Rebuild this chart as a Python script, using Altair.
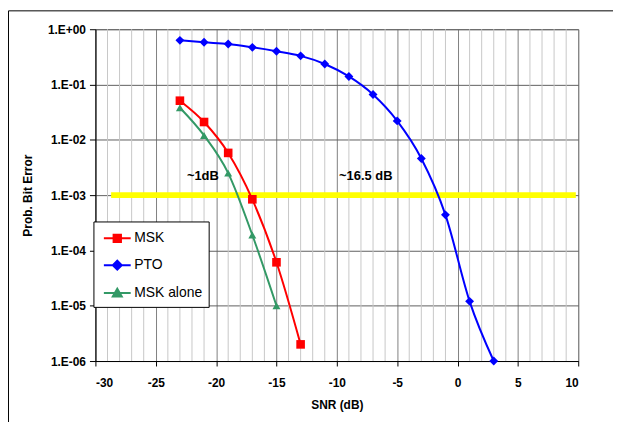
import altair as alt
import pandas as pd

# ---- data ----
snr_pto = [-23, -21, -19, -17, -15, -13, -11, -9, -7, -5, -3, -1, 1, 3]
ber_pto = [0.63, 0.58, 0.54, 0.47, 0.40, 0.33, 0.235, 0.14, 0.066, 0.022, 0.0046, 0.00044, 0.000012, 0.000001]
snr_msk = [-23, -21, -19, -17, -15, -13]
ber_msk = [0.051, 0.021, 0.0058, 0.00084, 0.000061, 0.000002]
snr_alone = [-23, -21, -19, -17, -15]
ber_alone = [0.038, 0.012, 0.0025, 0.00019, 0.00001]

series_names = ["MSK", "PTO", "MSK alone"]
series_colors = ["#FF0000", "#0000FF", "#339966"]
series_shapes = ["square", "diamond", "triangle-up"]
series_sizes = [75, 80, 64]

threshold_ber = [0.001]
threshold_from = [-28.7]
threshold_to = [9.8]

note_text = ["~1dB", "~16.5 dB"]
note_snr = [-21.1, -7.6]
note_ber = [0.0022, 0.0022]

y_ticks = [1e-6, 1e-5, 1e-4, 1e-3, 1e-2, 1e-1, 1]
x_major = list(range(-30, 11, 5))
x_minor = [v for v in range(-30, 11) if v % 5 != 0]

# ---- tables ----
rows = []
for name, xs, ys in [("MSK", snr_msk, ber_msk), ("PTO", snr_pto, ber_pto), ("MSK alone", snr_alone, ber_alone)]:
    rows += [{"series": name, "snr": x, "ber": y} for x, y in zip(xs, ys)]
df = pd.DataFrame(rows)
thr = pd.DataFrame({"snr": threshold_from, "snr2": threshold_to, "ber": threshold_ber})
notes = pd.DataFrame({"t": note_text, "snr": note_snr, "ber": note_ber})
minor = pd.DataFrame({"snr": x_minor})

FONT = "Liberation Sans"
xscale = alt.Scale(domain=[-30, 10], nice=False, zero=False)
yscale = alt.Scale(type="log", domain=[1e-6, 1], nice=False)

x_axis = alt.Axis(
    values=x_major, title="SNR (dB)", labelOverlap=False,
    labelExpr="'' + datum.value",
    gridColor="#808080", tickSize=5, labelPadding=12, titlePadding=11,
)
y_axis = alt.Axis(
    values=y_ticks, title="Prob. Bit Error", labelOverlap=False,
    labelExpr="'1.E' + (datum.value >= 1 ? '+00' : '-0' + round(-log(datum.value)/LN10))",
    gridColor="#606060", tickSize=6, labelPadding=4, titlePadding=13,
)


def X():
    return alt.X("snr:Q", scale=xscale, axis=x_axis)


def Y():
    return alt.Y("ber:Q", scale=yscale, axis=y_axis)


minor_grid = alt.Chart(minor).mark_rule(color="#c8c8c8", strokeWidth=1).encode(x=X())

frame = alt.Chart(pd.DataFrame({"a": [0]})).mark_rect(
    fillOpacity=0, stroke="black", strokeWidth=1
).encode(x=alt.value(-87.5), x2=alt.value(900), y=alt.value(-18.5), y2=alt.value(900))

threshold = alt.Chart(thr).mark_rule(color="#FFFF00", strokeWidth=6).encode(
    x=X(), x2="snr2:Q", y=Y(),
)

series_layers = []
for name, color, shape, size in zip(series_names, series_colors, series_shapes, series_sizes):
    sub = alt.Chart(df).transform_filter(alt.datum.series == name)
    series_layers.append(
        sub.mark_line(strokeWidth=2, interpolate="monotone", color=color).encode(x=X(), y=Y())
    )
    series_layers.append(
        sub.mark_point(filled=True, shape=shape, size=size, opacity=1, color=color).encode(x=X(), y=Y())
    )

text = alt.Chart(notes).mark_text(font=FONT, fontSize=13, fontWeight="bold", color="black").encode(
    x=X(), y=Y(), text="t:N"
)

legend_paths = [
    "M-1.35,0L1.35,0M-0.37,-0.37L0.37,-0.37L0.37,0.37L-0.37,0.37Z",
    "M-1.35,0L1.35,0M0,-0.45L0.45,0L0,0.45L-0.45,0Z",
    "M-1.35,0L1.35,0M0,-0.42L0.45,0.36L-0.45,0.36Z",
]
leg = alt.Legend(
    title=None, orient="none", legendX=-2, legendY=193.5,
    strokeColor="black", fillColor="white", padding=6,
    symbolSize=400, symbolStrokeWidth=2, symbolOffset=7, labelOffset=6,
    symbolFillColor="black", symbolOpacity=1,
    rowPadding=8, labelFont=FONT, labelFontSize=14, labelColor="black",
)
legend_layer = alt.Chart(df).mark_point(
    filled=True, size=400, strokeWidth=2, opacity=0
).encode(
    x=X(), y=Y(),
    fill=alt.Fill("series:N", scale=alt.Scale(domain=series_names, range=series_colors), legend=leg),
    stroke=alt.Stroke("series:N", scale=alt.Scale(domain=series_names, range=series_colors), legend=leg),
    shape=alt.Shape("series:N", scale=alt.Scale(domain=series_names, range=legend_paths), legend=leg),
)

chart = alt.layer(minor_grid, threshold, *series_layers, text, legend_layer, frame).properties(
    width=486, height=334,
    autosize=alt.AutoSizeParams(type="none"),
    padding={"left": 88, "top": 20, "right": 35, "bottom": 60},
).configure_view(stroke="#808080", strokeWidth=1).configure_axis(
    labelFont=FONT, labelFontSize=12, labelFontWeight="bold", labelColor="black",
    titleFont=FONT, titleFontSize=12, titleFontWeight="bold", titleColor="black",
    domainColor="black", tickColor="black", gridWidth=1,
)

chart.save("out.html", embed_options={"renderer": "svg", "actions": False})
